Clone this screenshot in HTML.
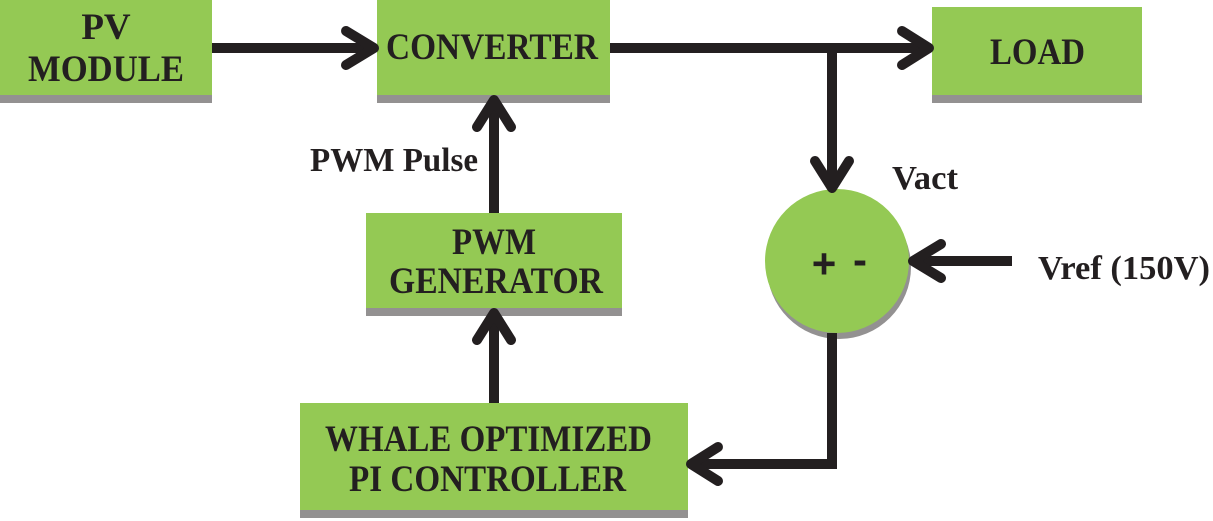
<!DOCTYPE html>
<html><head><meta charset="utf-8"><style>html,body{margin:0;padding:0;background:#fff;}svg{display:block}</style></head>
<body>
<svg width="1213" height="521" viewBox="0 0 1213 521" xmlns="http://www.w3.org/2000/svg">
<g fill="#939191">
<rect x="0" y="94" width="212" height="9"/>
<rect x="377" y="94" width="233" height="9"/>
<rect x="932" y="94" width="210" height="9"/>
<rect x="366" y="307" width="256" height="9"/>
<rect x="300" y="509" width="388" height="9"/>
<circle cx="839" cy="267" r="72"/>
</g>
<g fill="#94c954">
<rect x="0" y="0" width="212" height="95"/>
<rect x="377" y="0" width="233" height="95"/>
<rect x="932" y="7" width="210" height="88"/>
<rect x="366" y="213" width="256" height="95"/>
<rect x="300" y="403" width="388" height="107"/>
<circle cx="837" cy="261" r="72"/>
</g>
<g stroke="#231f20" stroke-width="10" fill="none" stroke-linecap="round" stroke-linejoin="round">
<line x1="212" y1="48" x2="372" y2="48" stroke-linecap="butt"/>
<polyline points="346,31 374,48 346,65"/>
<line x1="610" y1="48" x2="927" y2="48" stroke-linecap="butt"/>
<polyline points="902,31 929,48 902,65"/>
<line x1="832" y1="48" x2="832" y2="185" stroke-linecap="butt"/>
<polyline points="815,161 832,188 849,161"/>
<line x1="494" y1="213" x2="494" y2="100" stroke-linecap="butt"/>
<polyline points="477,127 494,100 511,127"/>
<line x1="494" y1="403" x2="494" y2="313" stroke-linecap="butt"/>
<polyline points="477,340 494,313 511,340"/>
<line x1="1012" y1="261" x2="914" y2="261" stroke-linecap="butt"/>
<polyline points="941,244 913,261 941,278"/>
<polyline points="832,333 832,464 693,464" stroke-linecap="butt" stroke-linejoin="miter"/>
<polyline points="718,447 691,464 718,481"/>
</g>
<g font-family="Liberation Serif, serif" font-weight="bold" fill="#231f20" font-size="37">
<text x="106" y="39" text-anchor="middle">PV</text>
<text x="106" y="81" text-anchor="middle" textLength="156" lengthAdjust="spacingAndGlyphs">MODULE</text>
<text x="386" y="59" textLength="212" lengthAdjust="spacingAndGlyphs">CONVERTER</text>
<text x="990" y="64" textLength="95" lengthAdjust="spacingAndGlyphs">LOAD</text>
<text x="494" y="254" text-anchor="middle" textLength="84" lengthAdjust="spacingAndGlyphs">PWM</text>
<text x="389" y="293" textLength="214" lengthAdjust="spacingAndGlyphs">GENERATOR</text>
<text x="325" y="451" textLength="327" lengthAdjust="spacingAndGlyphs">WHALE OPTIMIZED</text>
<text x="349" y="491" textLength="277" lengthAdjust="spacingAndGlyphs">PI CONTROLLER</text>
<text x="310" y="171" textLength="168" lengthAdjust="spacingAndGlyphs" font-size="34">PWM Pulse</text>
<text x="892" y="189" textLength="66" lengthAdjust="spacingAndGlyphs" font-size="34">Vact</text>
<text x="1038" y="279" textLength="172" lengthAdjust="spacingAndGlyphs" font-size="34">Vref (150V)</text>
</g>
<g font-family="Liberation Sans, sans-serif" font-weight="bold" fill="#231f20" font-size="42">
<text x="824" y="278" text-anchor="middle">+</text>
<text x="860" y="274" text-anchor="middle">-</text>
</g>
</svg>
</body></html>
